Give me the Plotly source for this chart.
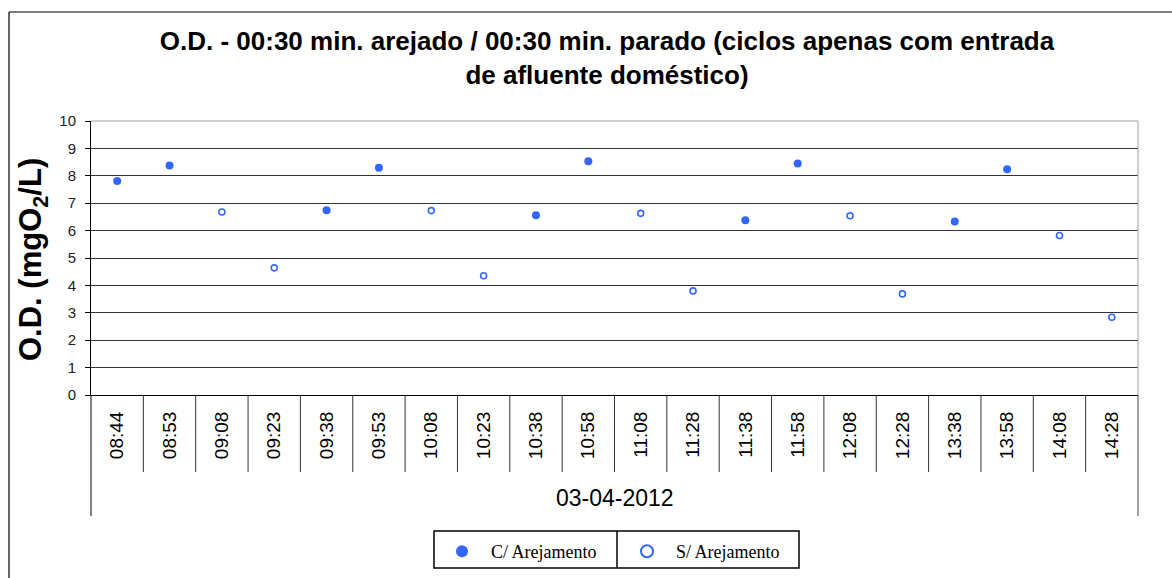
import plotly.graph_objects as go

# ---------------- data ----------------
times = ["08:44", "08:53", "09:08", "09:23", "09:38", "09:53", "10:08", "10:23", "10:38", "10:58",
         "11:08", "11:28", "11:38", "11:58", "12:08", "12:28", "13:38", "13:58", "14:08", "14:28"]
com_arejamento = [7.81, 8.38, None, None, 6.74, 8.29, None, None, 6.56, 8.53,
                  None, None, 6.38, 8.45, None, None, 6.33, 8.24, None, None]
sem_arejamento = [None, None, 6.68, 4.64, None, None, 6.73, 4.35, None, None,
                  6.63, 3.80, None, None, 6.54, 3.69, None, None, 5.82, 2.84]
group_label = "03-04-2012"
series_names = ["C/ Arejamento", "S/ Arejamento"]
title_text = "O.D. - 00:30 min. arejado / 00:30 min. parado (ciclos apenas com entrada<br>de afluente doméstico)"
y_title = "O.D. (mgO<sub>2</sub>/L)"

# ---------------- layout geometry ----------------
W, H = 1172, 578
ML, MR, MT, MB = 91, 34, 121, 183
PW, PH = W - ML - MR, H - MT - MB
BLUE = "#3366FF"
NBSP = "\u00a0"


def px_x(px):
    return (px - ML) / PW


def px_y(py):
    return (H - MB - py) / PH


fig = go.Figure()
fig.add_trace(go.Scatter(
    x=times, y=com_arejamento, mode="markers", name=NBSP * 2 + series_names[0],
    marker=dict(symbol="circle", size=8, color=BLUE, line=dict(width=0)),
))
fig.add_trace(go.Scatter(
    x=times, y=sem_arejamento, mode="markers", name=NBSP * 2 + series_names[1],
    marker=dict(symbol="circle-open", size=6, color=BLUE, line=dict(width=1.6, color=BLUE)),
))

n = len(times)
shapes = []
# category separators below the axis
sep_bottom = px_y(472)
for k in range(1, n):
    shapes.append(dict(type="line", xref="paper", yref="paper",
                       x0=k / n, x1=k / n, y0=0, y1=sep_bottom,
                       line=dict(color="#333333", width=1)))
# left and right long separators
long_bottom = px_y(516)
shapes.append(dict(type="line", xref="paper", yref="paper", x0=0, x1=0, y0=0, y1=long_bottom,
                   line=dict(color="#000000", width=1)))
shapes.append(dict(type="line", xref="paper", yref="paper", x0=1, x1=1, y0=0, y1=long_bottom,
                   line=dict(color="#444444", width=1)))
# plot-area top & right border (gray)
shapes.append(dict(type="line", xref="paper", yref="paper", x0=0, x1=1, y0=1, y1=1,
                   line=dict(color="#A0A0A0", width=1)))
shapes.append(dict(type="line", xref="paper", yref="paper", x0=1, x1=1, y0=0, y1=1,
                   line=dict(color="#A0A0A0", width=1)))
# outer chart border (left & top)
shapes.append(dict(type="line", xref="paper", yref="paper",
                   x0=px_x(9), x1=px_x(9), y0=px_y(12), y1=px_y(H + 5),
                   line=dict(color="#000000", width=1.2)))
shapes.append(dict(type="line", xref="paper", yref="paper",
                   x0=px_x(9), x1=px_x(W + 5), y0=px_y(12), y1=px_y(12),
                   line=dict(color="#000000", width=1.2)))
# legend frame with divider
shapes.append(dict(type="rect", xref="paper", yref="paper",
                   x0=px_x(434), x1=px_x(799), y0=px_y(531), y1=px_y(568),
                   line=dict(color="#000000", width=1.5), fillcolor="white"))
shapes.append(dict(type="line", xref="paper", yref="paper",
                   x0=px_x(617), x1=px_x(617), y0=px_y(531), y1=px_y(568),
                   line=dict(color="#000000", width=1.5)))

annotations = [
    dict(text=group_label, xref="paper", yref="paper", x=0.5, y=px_y(498),
         xanchor="center", yanchor="middle", showarrow=False,
         font=dict(family="Liberation Sans, Arial", size=23, color="#000000")),
    dict(text=y_title, xref="paper", yref="paper", x=px_x(33), y=px_y(260),
         xanchor="center", yanchor="middle", showarrow=False, textangle=-90,
         font=dict(family="Liberation Sans, Arial", size=31, color="#000000", weight="bold")),
]

fig.update_layout(
    width=W, height=H,
    margin=dict(l=ML, r=MR, t=MT, b=MB, pad=0, autoexpand=False),
    paper_bgcolor="white", plot_bgcolor="white",
    title=dict(text=title_text, x=px_x(607), xref="paper", xanchor="center",
               y=1 - 50 / H, yref="container", yanchor="middle",
               font=dict(family="Liberation Sans, Arial", size=26, color="#000000", weight="bold")),
    xaxis=dict(type="category", range=[-0.5, n - 0.5], showgrid=False, zeroline=False,
               showline=True, linecolor="#000000", linewidth=1, automargin=False,
               ticks="", tickangle=-90, ticklabelstandoff=8,
               tickfont=dict(family="Liberation Sans, Arial", size=19, color="#000000")),
    yaxis=dict(range=[0, 10], dtick=1, tick0=0, showgrid=True, gridcolor="#333333", gridwidth=1,
               zeroline=False, showline=True, linecolor="#000000", linewidth=1, automargin=False,
               ticks="outside", ticklen=5, tickcolor="#000000", ticklabelstandoff=6,
               tickfont=dict(family="Liberation Sans, Arial", size=15, color="#222222")),
    showlegend=True,
    legend=dict(orientation="h", x=px_x(442), y=px_y(533), xanchor="left", yanchor="top",
                xref="paper", yref="paper",
                borderwidth=0, bgcolor="rgba(0,0,0,0)",
                font=dict(family="Liberation Serif, Times New Roman", size=18, color="#000000"),
                itemsizing="constant", entrywidth=140, entrywidthmode="pixels",
                traceorder="normal"),
    shapes=shapes,
    annotations=annotations,
    hovermode=False,
)

fig.write_html("out.html", config={"displayModeBar": False},
               post_script="document.body.style.margin='0';document.body.style.padding='0';")
